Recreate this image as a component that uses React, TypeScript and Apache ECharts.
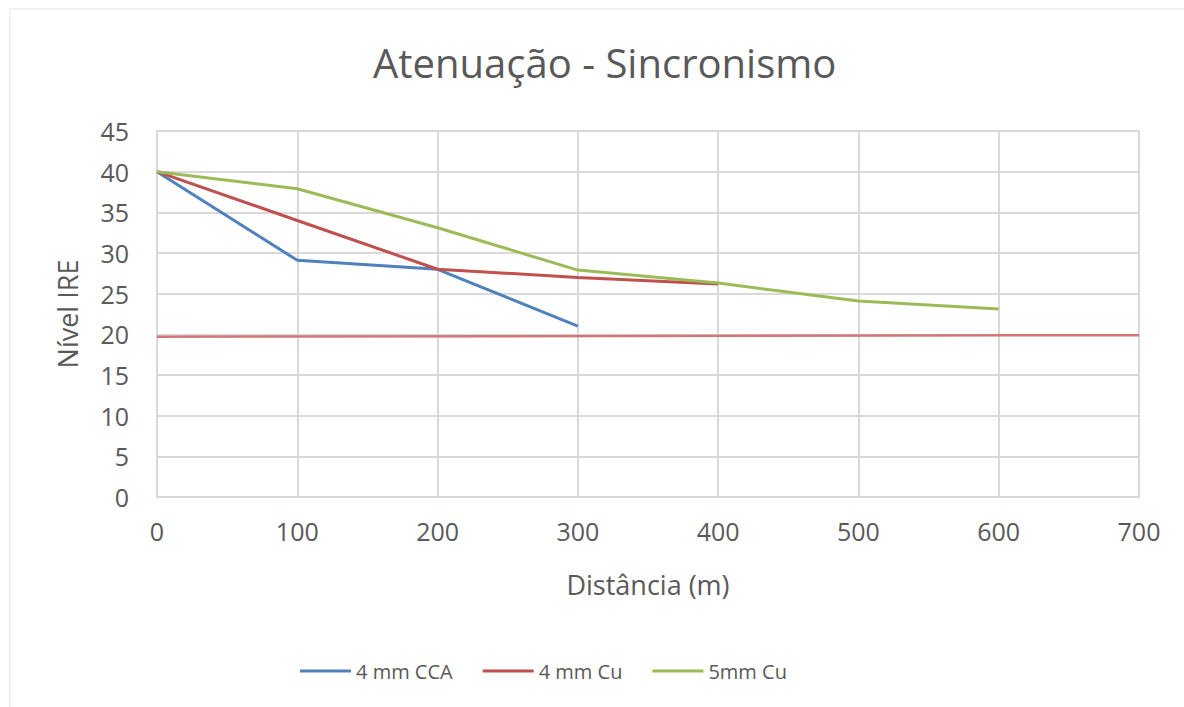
import React, { useEffect, useRef } from "react";
import * as echarts from "echarts";

const distances = [0, 100, 200, 300, 400, 500, 600];
const cca4mm = [40, 29.1, 28.0, 21.0];
const cu4mm = [40, 34.0, 28.0, 27.0, 26.2];
const cu5mm = [40, 37.9, 33.1, 27.9, 26.3, 24.1, 23.1];
const thresholdX = [0, 700];
const thresholdY = [19.7, 19.9];
const seriesNames = ["4 mm CCA", "4 mm Cu", "5mm Cu"];
const colors = ["#4f81bd", "#c0504d", "#9bbb59"];

const FONT = "'Open Sans', 'Noto Sans', sans-serif";
const TXT = "#595959";

export default function App() {
  const ref = useRef<HTMLDivElement>(null);
  useEffect(() => {
    if (!ref.current) return;
    const chart = echarts.init(ref.current, undefined, { renderer: "svg" });
    const toPairs = (vals: number[]) => vals.map((v, i) => [distances[i], v]);
    const valueSets = [cca4mm, cu4mm, cu5mm];
    chart.setOption({
      animation: false,
      backgroundColor: "#ffffff",
      textStyle: { fontFamily: FONT, color: TXT },
      graphic: [
        {
          type: "rect",
          shape: { x: 10, y: 9, width: 1200, height: 720 },
          style: { fill: "none", stroke: "#e3e3e3", lineWidth: 1 },
          silent: true,
        },
      ],
      title: {
        text: "Atenuação - Sincronismo",
        left: 368,
        top: 37,
        textStyle: { fontFamily: FONT, fontSize: 40, fontWeight: "normal", color: TXT },
      },
      legend: {
        data: seriesNames,
        top: 656,
        left: 295,
        icon: "rect",
        itemWidth: 51,
        itemHeight: 3,
        itemGap: 30,
        textStyle: { fontFamily: FONT, fontSize: 20, color: TXT },
      },
      grid: { left: 157, right: 45, top: 131, bottom: 210, containLabel: false },
      xAxis: {
        type: "value",
        min: 0,
        max: 700,
        interval: 100,
        name: "Distância (m)",
        nameLocation: "middle",
        nameGap: 74,
        nameTextStyle: { fontFamily: FONT, fontSize: 27, color: TXT },
        axisLine: { show: true, lineStyle: { color: "#d9d9d9", width: 2 } },
        axisTick: { show: false },
        axisLabel: { fontFamily: FONT, fontSize: 25, color: TXT, margin: 21 },
        splitLine: { show: true, lineStyle: { color: "#d9d9d9", width: 2 } },
      },
      yAxis: {
        type: "value",
        min: 0,
        max: 45,
        interval: 5,
        name: "Nível IRE",
        nameLocation: "middle",
        nameGap: 76,
        nameTextStyle: { fontFamily: FONT, fontSize: 27, color: TXT },
        axisLine: { show: true, lineStyle: { color: "#d9d9d9", width: 2 } },
        axisTick: { show: false },
        axisLabel: { fontFamily: FONT, fontSize: 25, color: TXT, margin: 28 },
        splitLine: { show: true, lineStyle: { color: "#d9d9d9", width: 2 } },
      },
      series: [
        ...valueSets.map((vals, i) => ({
          name: seriesNames[i],
          type: "line",
          data: toPairs(vals),
          showSymbol: false,
          symbol: "none",
          lineStyle: { color: colors[i], width: 3 },
          itemStyle: { color: colors[i] },
        })),
        {
          name: "Limite",
          type: "line",
          data: thresholdX.map((x, i) => [x, thresholdY[i]]),
          showSymbol: false,
          symbol: "none",
          lineStyle: { color: "#d47676", width: 2.5 },
          itemStyle: { color: "#d47676" },
        },
      ],
    });
    return () => chart.dispose();
  }, []);
  return (
    <div
      ref={ref}
      style={{ position: "fixed", left: 0, top: 0, width: 1184, height: 707 }}
    />
  );
}
